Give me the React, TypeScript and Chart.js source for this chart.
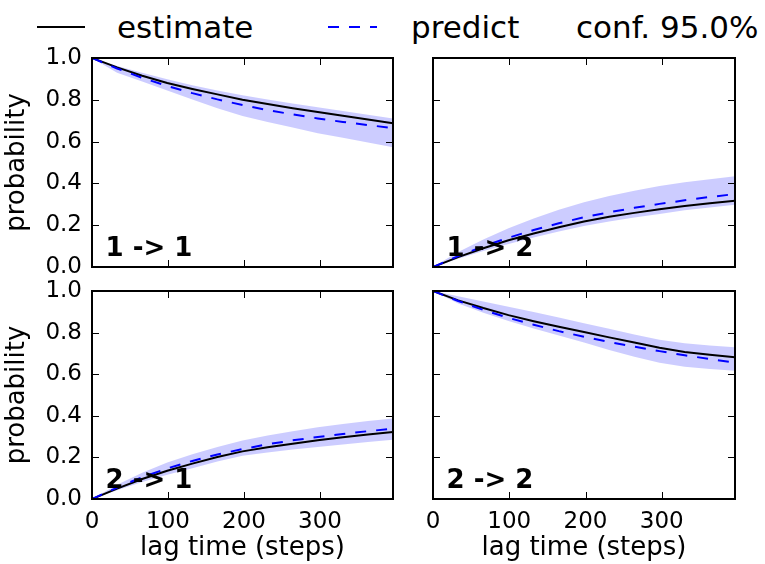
import React, { useEffect, useRef } from "react";
import { Chart, registerables } from "chart.js";

Chart.register(...registerables);

const FONT = '"DejaVu Sans", "Liberation Sans", sans-serif';

// ---------- data ----------
const lagTimes = [0, 33, 66, 99, 132, 165, 198, 231, 264, 297, 330, 363, 396];
const xTicks = [0, 100, 200, 300];
const yTicks = [0, 0.2, 0.4, 0.6, 0.8, 1.0];
const X_MAX = 396;

const est11 = [1.0, 0.955, 0.915, 0.88, 0.852, 0.826, 0.8, 0.78, 0.76, 0.742, 0.724, 0.706, 0.688];
const pred11 = [1.0, 0.95, 0.905, 0.866, 0.832, 0.802, 0.775, 0.751, 0.73, 0.711, 0.694, 0.679, 0.665];
const hi11 = [1.0, 0.962, 0.93, 0.898, 0.87, 0.845, 0.822, 0.801, 0.782, 0.764, 0.746, 0.728, 0.711];
const lo11 = [1.0, 0.93, 0.887, 0.845, 0.802, 0.76, 0.722, 0.694, 0.668, 0.64, 0.618, 0.596, 0.573];

const est12 = [0, 0.047, 0.09, 0.128, 0.16, 0.19, 0.218, 0.24, 0.259, 0.276, 0.292, 0.305, 0.317];
const pred12 = [0, 0.052, 0.099, 0.14, 0.177, 0.209, 0.238, 0.262, 0.283, 0.302, 0.319, 0.335, 0.349];
const hi12 = [0, 0.072, 0.132, 0.185, 0.232, 0.274, 0.31, 0.34, 0.365, 0.387, 0.405, 0.42, 0.434];
const lo12 = [0, 0.04, 0.077, 0.11, 0.141, 0.17, 0.196, 0.218, 0.237, 0.254, 0.271, 0.285, 0.298];

const est21 = [0, 0.05, 0.096, 0.136, 0.17, 0.202, 0.229, 0.249, 0.266, 0.282, 0.297, 0.31, 0.322];
const pred21 = [0, 0.055, 0.105, 0.147, 0.183, 0.214, 0.24, 0.263, 0.282, 0.298, 0.313, 0.326, 0.338];
const hi21 = [0, 0.068, 0.126, 0.175, 0.215, 0.25, 0.281, 0.305, 0.326, 0.345, 0.361, 0.375, 0.387];
const lo21 = [0, 0.042, 0.082, 0.116, 0.148, 0.18, 0.208, 0.224, 0.238, 0.25, 0.262, 0.274, 0.285];

const est22 = [1.0, 0.955, 0.918, 0.884, 0.855, 0.828, 0.803, 0.777, 0.752, 0.727, 0.707, 0.693, 0.681];
const pred22 = [1.0, 0.952, 0.909, 0.871, 0.838, 0.807, 0.78, 0.755, 0.732, 0.711, 0.691, 0.673, 0.656];
const hi22 = [1.0, 0.975, 0.95, 0.924, 0.899, 0.872, 0.845, 0.818, 0.791, 0.766, 0.749, 0.738, 0.73];
const lo22 = [1.0, 0.94, 0.895, 0.856, 0.82, 0.786, 0.752, 0.716, 0.684, 0.655, 0.636, 0.625, 0.616];

const legendLabels = ["estimate", "predict", "conf. 95.0%"];
const xTitle = "lag time (steps)";
const yTitle = "probability";

// ---------- styles ----------
const FILL = "rgba(0,0,255,0.2)";
const BLUE = "#0000ff";
const DASH = [11, 10];

type PanelCfg = {
  label: string;
  est: number[];
  pred: number[];
  lo: number[];
  hi: number[];
  showY: boolean;
  showX: boolean;
  left: number;
  top: number;
  width: number;
  height: number;
  padTop: number;
  padRight: number;
  yAxisW: number;
  xAxisH: number;
};

const framePlugin = {
  id: "frame",
  afterDatasetsDraw(chart: any, _args: any, opts: any) {
    const { ctx, chartArea: a, scales } = chart;
    const w = a.right - a.left;
    const h = a.bottom - a.top;
    ctx.save();
    // panel label
    ctx.font = `bold 26px ${FONT}`;
    ctx.fillStyle = "#000";
    ctx.textAlign = "left";
    ctx.textBaseline = "alphabetic";
    ctx.fillText(opts.label, a.left + 0.045 * w, a.bottom - 0.055 * h);
    // inward ticks
    ctx.strokeStyle = "#000";
    ctx.lineWidth = 1;
    const TL = 7;
    ctx.beginPath();
    for (const v of xTicks) {
      const px = Math.round(scales.x.getPixelForValue(v)) + 0.5;
      ctx.moveTo(px, a.bottom);
      ctx.lineTo(px, a.bottom - TL);
      ctx.moveTo(px, a.top);
      ctx.lineTo(px, a.top + TL);
    }
    for (const v of yTicks) {
      const py = Math.round(scales.y.getPixelForValue(v)) + 0.5;
      ctx.moveTo(a.left, py);
      ctx.lineTo(a.left + TL, py);
      ctx.moveTo(a.right, py);
      ctx.lineTo(a.right - TL, py);
    }
    ctx.stroke();
    // frame
    ctx.lineWidth = 2;
    ctx.strokeRect(a.left, a.top, w, h);
    ctx.restore();
  },
};

function toPts(arr: number[]) {
  return arr.map((y, i) => ({ x: lagTimes[i], y }));
}

function Panel({ cfg }: { cfg: PanelCfg }) {
  const ref = useRef<HTMLCanvasElement>(null);
  useEffect(() => {
    const chart = new Chart(ref.current as HTMLCanvasElement, {
      type: "line",
      data: {
        datasets: [
          {
            data: toPts(cfg.hi),
            borderColor: "rgba(0,0,0,0)",
            borderWidth: 0,
            pointRadius: 0,
            backgroundColor: FILL,
            fill: "+1",
            tension: 0,
            order: 3,
          },
          {
            data: toPts(cfg.lo),
            borderColor: "rgba(0,0,0,0)",
            borderWidth: 0,
            pointRadius: 0,
            fill: false,
            tension: 0,
            order: 4,
          },
          {
            data: toPts(cfg.est),
            borderColor: "#000",
            borderWidth: 2,
            pointRadius: 0,
            fill: false,
            tension: 0,
            order: 1,
          },
          {
            data: toPts(cfg.pred),
            borderColor: BLUE,
            borderWidth: 2,
            borderDash: DASH,
            pointRadius: 0,
            fill: false,
            tension: 0,
            order: 0,
          },
        ],
      } as any,
      options: {
        animation: false,
        responsive: false,
        events: [],
        layout: { padding: { left: 0, top: cfg.padTop, right: cfg.padRight, bottom: 0 } },
        plugins: {
          legend: { display: false },
          tooltip: { enabled: false },
          frame: { label: cfg.label },
        } as any,
        scales: {
          x: {
            type: "linear",
            min: 0,
            max: X_MAX,
            grid: { display: false, drawTicks: false },
            border: { display: false },
            afterBuildTicks: (s: any) => {
              s.ticks = xTicks.map((v) => ({ value: v }));
            },
            afterFit: (s: any) => {
              s.height = cfg.xAxisH;
            },
            ticks: {
              display: cfg.showX,
              color: "#000",
              font: { family: FONT, size: 23 },
              padding: 9,
              maxRotation: 0,
              autoSkip: false,
              callback: (v: any) => String(v),
            },
            title: {
              display: cfg.showX,
              text: xTitle,
              color: "#000",
              font: { family: FONT, size: 26 },
              padding: { top: 0, bottom: 0 },
            },
          },
          y: {
            type: "linear",
            min: 0,
            max: 1,
            grid: { display: false, drawTicks: false },
            border: { display: false },
            afterBuildTicks: (s: any) => {
              s.ticks = yTicks.map((v) => ({ value: v }));
            },
            afterFit: (s: any) => {
              s.width = cfg.yAxisW;
            },
            ticks: {
              display: cfg.showY,
              color: "#000",
              font: { family: FONT, size: 23 },
              padding: 10,
              autoSkip: false,
              callback: (v: any) => Number(v).toFixed(1),
            },
            title: {
              display: cfg.showY,
              text: yTitle,
              color: "#000",
              font: { family: FONT, size: 26 },
              padding: { top: 2, bottom: 0 },
            },
          },
        },
      } as any,
      plugins: [framePlugin],
    });
    return () => chart.destroy();
  }, []);
  return (
    <canvas
      ref={ref}
      width={cfg.width}
      height={cfg.height}
      style={{
        position: "absolute",
        left: cfg.left,
        top: cfg.top,
        width: cfg.width,
        height: cfg.height,
        display: "block",
      }}
    />
  );
}

// Plot areas: top row y 58..267, bottom row y 291..499; left x 92..393, right x 433..735
const panels: PanelCfg[] = [
  { label: "1 -> 1", est: est11, pred: pred11, lo: lo11, hi: hi11, showY: true, showX: false,
    left: 0, top: 30, width: 410, height: 265, padTop: 28, padRight: 17, yAxisW: 92, xAxisH: 28 },
  { label: "1 -> 2", est: est12, pred: pred12, lo: lo12, hi: hi12, showY: false, showX: false,
    left: 415, top: 30, width: 350, height: 265, padTop: 28, padRight: 30, yAxisW: 18, xAxisH: 28 },
  { label: "2 -> 1", est: est21, pred: pred21, lo: lo21, hi: hi21, showY: true, showX: true,
    left: 0, top: 263, width: 410, height: 301, padTop: 28, padRight: 17, yAxisW: 92, xAxisH: 65 },
  { label: "2 -> 2", est: est22, pred: pred22, lo: lo22, hi: hi22, showY: false, showX: true,
    left: 415, top: 263, width: 350, height: 301, padTop: 28, padRight: 30, yAxisW: 18, xAxisH: 65 },
];

export default function App() {
  const legendFont: React.CSSProperties = {
    position: "absolute",
    top: 12,
    fontFamily: FONT,
    fontSize: 31,
    lineHeight: "31px",
    whiteSpace: "pre",
    color: "#000",
  };
  return (
    <div style={{ position: "absolute", left: 0, top: 0, width: 765, height: 564, background: "#fff", overflow: "hidden" }}>
      <svg width={765} height={50} style={{ position: "absolute", left: 0, top: 0 }}>
        <line x1={37} y1={27} x2={85} y2={27} stroke="#000" strokeWidth={2} />
        <line x1={328} y1={27} x2={377} y2={27} stroke={BLUE} strokeWidth={2} strokeDasharray={DASH.join(" ")} />
      </svg>
      <div style={{ ...legendFont, left: 117 }}>{legendLabels[0]}</div>
      <div style={{ ...legendFont, left: 411 }}>{legendLabels[1]}</div>
      <div style={{ ...legendFont, left: 576 }}>{legendLabels[2]}</div>
      {panels.map((p) => (
        <Panel key={p.label} cfg={p} />
      ))}
    </div>
  );
}
